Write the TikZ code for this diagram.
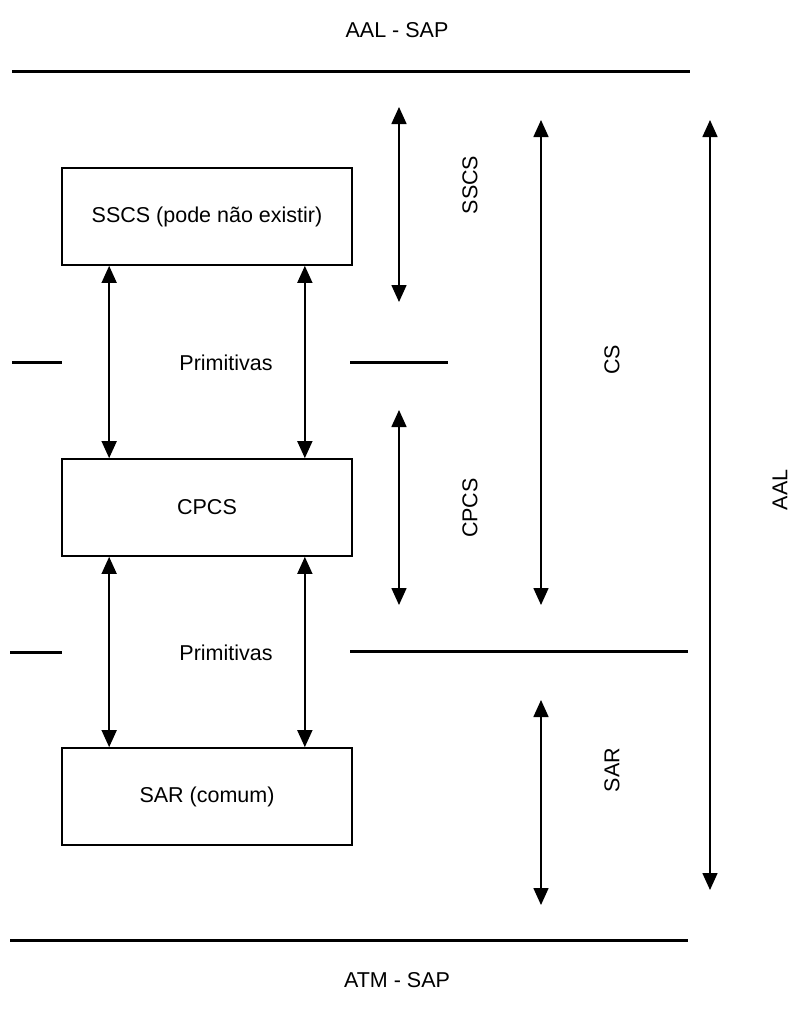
\documentclass[tikz,border=0pt]{standalone}
\usepackage{fontspec}
\setmainfont{Liberation Sans}
\usetikzlibrary{arrows.meta}
\begin{document}
\begin{tikzpicture}[x=1pt,y=-1pt,
  every node/.style={font=\fontsize{21.5}{25}\selectfont},
  layer/.style={draw,line width=1.7pt,minimum width=290pt,minimum height=97pt,inner sep=0pt},
  sep/.style={line width=3pt},
  dbl/.style={line width=1.6pt,{Triangle[width=15pt,length=17pt]}-{Triangle[width=15pt,length=17pt]}},
  lbl/.style={rotate=90}]
\useasboundingbox (0,0) rectangle (794,1010);

% service access points and outer separators
\node (aalsap) at (397,30) {AAL - SAP};
\node (atmsap) at (397,980) {ATM - SAP};
\coordinate (t1) at (12,71);  \coordinate (t2) at (690,71);
\coordinate (b1) at (10,940); \coordinate (b2) at (688,940);
\draw[sep] (t1) -- (t2);
\draw[sep] (b1) -- (b2);

% sublayer boxes
\node[layer] (sscs) at (207,216.5) {SSCS (pode não existir)};
\node[layer] (cpcs) at (207,507.5) {CPCS};
\node[layer] (sar)  at (207,796.5) {SAR (comum)};

% primitives between the boxes
\node (prim1) at (226,363) {Primitivas};
\node (prim2) at (226,653) {Primitivas};
\coordinate (p1a) at (12,362);  \coordinate (p1b) at (62,362);
\coordinate (p1c) at (350,362); \coordinate (p1d) at (448,362);
\coordinate (p2a) at (10,652);  \coordinate (p2b) at (62,652);
\coordinate (p2c) at (350,651); \coordinate (p2d) at (688,651);
\draw[sep] (p1a) -- (p1b);
\draw[sep] (p1c) -- (p1d);
\draw[sep] (p2a) -- (p2b);
\draw[sep] (p2c) -- (p2d);

\draw[dbl] ([xshift=48pt]sscs.south west) -- ([xshift=48pt]cpcs.north west);
\draw[dbl] ([xshift=-48pt]sscs.south east) -- ([xshift=-48pt]cpcs.north east);
\draw[dbl] ([xshift=48pt]cpcs.south west) -- ([xshift=48pt]sar.north west);
\draw[dbl] ([xshift=-48pt]cpcs.south east) -- ([xshift=-48pt]sar.north east);

% extent of each sublayer
\coordinate (s1) at (399,107); \coordinate (s2) at (399,302);
\coordinate (c1) at (399,410); \coordinate (c2) at (399,605);
\coordinate (cs1) at (541,120); \coordinate (cs2) at (541,605);
\coordinate (r1) at (541,700); \coordinate (r2) at (541,905);
\coordinate (a1) at (710,120); \coordinate (a2) at (710,890);
\draw[dbl] (s1) -- (s2);
\draw[dbl] (c1) -- (c2);
\draw[dbl] (cs1) -- (cs2);
\draw[dbl] (r1) -- (r2);
\draw[dbl] (a1) -- (a2);
\node[lbl] (lsscs) at (470,185) {SSCS};
\node[lbl] (lcpcs) at (470,508) {CPCS};
\node[lbl] (lcs)   at (612,360) {CS};
\node[lbl] (lsar)  at (612,770) {SAR};
\node[lbl] (laal)  at (780,490) {AAL};
\end{tikzpicture}
\end{document}
